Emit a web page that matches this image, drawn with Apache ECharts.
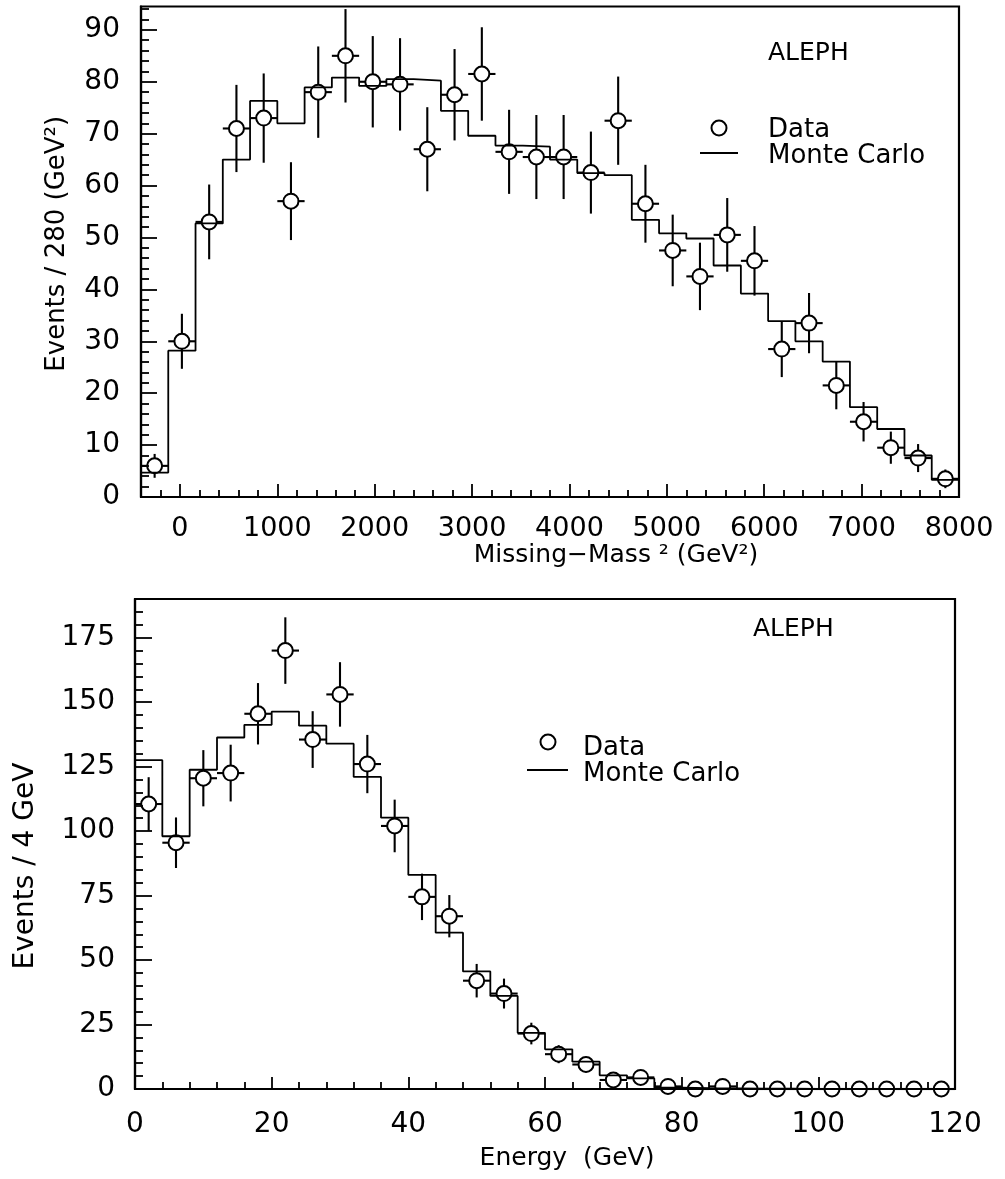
<!DOCTYPE html>
<html>
<head>
<meta charset="utf-8">
<script src="https://cdn.jsdelivr.net/npm/echarts@6/dist/echarts.min.js"></script>
<style>
html,body{margin:0;padding:0;background:#fff;}
#chart{width:1005px;height:1179px;}
</style>
</head>
<body>
<div id="chart"></div>
<script>
// ---------- Top panel: Missing-Mass^2 ----------
const topCenters = [-260,20,300,580,860,1140,1420,1700,1980,2260,2540,2820,3100,3380,3660,3940,4220,4500,4780,5060,5340,5620,5900,6180,6460,6740,7020,7300,7580,7860];
const topCounts  = [6,30,53,71,73,57,78,85,80,79.5,67,77.5,81.5,66.5,65.5,65.5,62.5,72.5,56.5,47.5,42.5,50.5,45.5,28.5,33.5,21.5,14.5,9.5,7.5,3.5];
const topErrors  = [2.3,5.3,7.2,8.4,8.6,7.5,8.8,9,8.8,8.9,8.1,8.8,9,8.1,8.1,8.1,7.9,8.5,7.5,6.9,6.5,7.1,6.7,5.4,5.8,4.6,3.8,3.1,2.7,1.8];
const topMC      = [4.7,28.2,52.7,65,76.3,72,78.9,80.8,79.2,80.5,80.2,74.4,69.6,67.7,67.5,65,62.4,62,53.4,50.8,49.8,44.6,39.2,33.9,30,26.1,17.3,13.1,8,3.3];
const topXTicks  = [0,1000,2000,3000,4000,5000,6000,7000,8000];
const topYTicks  = [0,10,20,30,40,50,60,70,80,90];

// ---------- Bottom panel: Energy ----------
const botCenters = [2,6,10,14,18,22,26,30,34,38,42,46,50,54,58,62,66,70,74,78,82,86,90,94,98,102,106,110,114,118];
const botCounts  = [110.5,95.5,120.5,122.5,145.5,170,135.5,153,126,102,74.5,67,42,37,21.5,13.5,9.5,3.5,4.5,1,0,1,0,0,0,0,0,0,0,0];
const botErrors  = [10.4,9.8,10.9,11,11.9,12.9,11,12.5,11.3,10.2,9,8.2,6.5,5.8,4.2,3.5,3,1.8,2,1,0,1,0,0,0,0,0,0,0,0];
const botMC      = [127.5,98,123.8,136.3,141.2,146.3,140.9,133.9,121,105.2,83,60.6,45.6,36.1,21.8,15.4,10.6,5.3,4.1,0.5,0.3,0.2,0.1,0.1,0,0,0,0,0,0];
const botXTicks  = [0,20,40,60,80,100,120];
const botYTicks  = [0,25,50,75,100,125,150,175];

const FONT = 'DejaVu Sans';

function stepData(centers, values){
  const w = centers[1] - centers[0];
  const out = [[centers[0] - w/2, 0]];
  for (let i = 0; i < centers.length; i++) out.push([centers[i] - w/2, values[i]]);
  out.push([centers[centers.length-1] + w/2, values[values.length-1]]);
  return out;
}
function pointData(centers, counts, errs){
  return centers.map((c,i) => [c, counts[i], errs[i]]);
}
function minorTicks(min, max, step, skipEvery){
  const r = [];
  for (let v = min; v <= max + 1e-9; v += step){
    if (Math.abs(v % skipEvery) > 1e-9 && v > min && v < max) r.push(v);
  }
  return r;
}
function makeRender(halfW){
  return function(params, api){
    const x = api.value(0), y = api.value(1), e = api.value(2);
    const c = api.coord([x, y]);
    const t = api.coord([x, y + e]);
    const b = api.coord([x, Math.max(0, y - e)]);
    const l = api.coord([x - halfW, y]);
    const r = api.coord([x + halfW, y]);
    const R = 7.5;
    const st = {stroke:'#000', lineWidth:2.1, fill:'none'};
    const kids = [{type:'circle', shape:{cx:c[0], cy:c[1], r:R}, style:{stroke:'#000', lineWidth:2, fill:'none'}}];
    if (t[1] < c[1] - R) kids.push({type:'line', shape:{x1:c[0], y1:t[1], x2:c[0], y2:c[1]-R}, style:st});
    if (b[1] > c[1] + R) kids.push({type:'line', shape:{x1:c[0], y1:c[1]+R, x2:c[0], y2:b[1]}, style:st});
    kids.push({type:'line', shape:{x1:l[0], y1:c[1], x2:c[0]-R, y2:c[1]}, style:st});
    kids.push({type:'line', shape:{x1:c[0]+R, y1:c[1], x2:r[0], y2:c[1]}, style:st});
    return {type:'group', children:kids};
  };
}

const axisLineStyle = {show:true, onZero:false, lineStyle:{color:'#000', width:2.2}};
const noLine = {show:false, onZero:false};
const tickStyle = {color:'#000', width:1.8};
const plain = v => String(v);

const option = {
  backgroundColor:'#fff',
  animation:false,
  textStyle:{fontFamily:FONT, color:'#000'},
  grid:[
    {left:141, width:818, top:6.5, height:490.5, show:true, borderColor:'#000', borderWidth:2.2, backgroundColor:'transparent'},
    {left:135, width:820, top:599, height:490, show:true, borderColor:'#000', borderWidth:2.2, backgroundColor:'transparent'}
  ],
  xAxis:[
    {gridIndex:0, type:'value', min:-400, max:8000, position:'bottom', axisLine:axisLineStyle,
     axisTick:{show:true, inside:true, length:7, lineStyle:tickStyle, customValues:minorTicks(-400,8000,200,1000)},
     axisLabel:{show:false}, splitLine:{show:false}},
    {gridIndex:0, type:'value', min:-400, max:8000, position:'bottom', axisLine:noLine,
     axisTick:{show:true, inside:true, length:13, lineStyle:tickStyle, customValues:topXTicks},
     axisLabel:{show:true, customValues:topXTicks, formatter:plain, margin:18, fontSize:27, color:'#000', fontFamily:FONT},
     splitLine:{show:false},
     name:'Missing\u2212Mass \u00B2 (GeV\u00B2)', nameLocation:'middle', nameGap:46,
     nameTextStyle:{fontSize:25, color:'#000', fontFamily:FONT, padding:[0,0,0,132]}},
    {gridIndex:1, type:'value', min:0, max:120, position:'bottom', axisLine:axisLineStyle,
     axisTick:{show:true, inside:true, length:7, lineStyle:tickStyle, customValues:minorTicks(0,120,4,20)},
     axisLabel:{show:false}, splitLine:{show:false}},
    {gridIndex:1, type:'value', min:0, max:120, position:'bottom', axisLine:noLine,
     axisTick:{show:true, inside:true, length:12, lineStyle:tickStyle, customValues:botXTicks},
     axisLabel:{show:true, customValues:botXTicks, formatter:plain, margin:22, fontSize:28, color:'#000', fontFamily:FONT},
     splitLine:{show:false},
     name:'Energy  (GeV)', nameLocation:'middle', nameGap:57,
     nameTextStyle:{fontSize:25, color:'#000', fontFamily:FONT, padding:[0,0,0,44]}}
  ],
  yAxis:[
    {gridIndex:0, type:'value', min:0, max:94.5, position:'left', axisLine:axisLineStyle,
     axisTick:{show:true, inside:true, length:8, lineStyle:tickStyle, customValues:minorTicks(0,94.5,2,10)},
     axisLabel:{show:false}, splitLine:{show:false}},
    {gridIndex:0, type:'value', min:0, max:94.5, position:'left', axisLine:noLine,
     axisTick:{show:true, inside:true, length:16, lineStyle:tickStyle, customValues:topYTicks},
     axisLabel:{show:true, customValues:topYTicks, formatter:plain, margin:21, fontSize:28, color:'#000', fontFamily:FONT},
     splitLine:{show:false},
     name:'Events / 280 (GeV\u00B2)', nameLocation:'middle', nameGap:71, nameRotate:90,
     nameTextStyle:{fontSize:26, color:'#000', fontFamily:FONT, padding:[0,0,0,16]}},
    {gridIndex:1, type:'value', min:0, max:190, position:'left', axisLine:axisLineStyle,
     axisTick:{show:true, inside:true, length:8, lineStyle:tickStyle, customValues:minorTicks(0,190,5,25)},
     axisLabel:{show:false}, splitLine:{show:false}},
    {gridIndex:1, type:'value', min:0, max:190, position:'left', axisLine:noLine,
     axisTick:{show:true, inside:true, length:17, lineStyle:tickStyle, customValues:botYTicks},
     axisLabel:{show:true, customValues:botYTicks, formatter:plain, margin:20, fontSize:28, color:'#000', fontFamily:FONT},
     splitLine:{show:false},
     name:'Events / 4 GeV', nameLocation:'middle', nameGap:95, nameRotate:90,
     nameTextStyle:{fontSize:28, color:'#000', fontFamily:FONT, padding:[0,44,0,0]}}
  ],
  series:[
    {name:'Monte Carlo', type:'line', xAxisIndex:0, yAxisIndex:0, step:'end', showSymbol:false, symbol:'none',
     lineStyle:{color:'#000', width:1.8}, data:stepData(topCenters, topMC), z:2},
    {name:'Data', type:'custom', xAxisIndex:0, yAxisIndex:0, clip:false,
     renderItem:makeRender((topCenters[1]-topCenters[0])/2), data:pointData(topCenters, topCounts, topErrors), z:3},
    {name:'Monte Carlo', type:'line', xAxisIndex:2, yAxisIndex:2, step:'end', showSymbol:false, symbol:'none',
     lineStyle:{color:'#000', width:1.8}, data:stepData(botCenters, botMC), z:2},
    {name:'Data', type:'custom', xAxisIndex:2, yAxisIndex:2, clip:false,
     renderItem:makeRender((botCenters[1]-botCenters[0])/2), data:pointData(botCenters, botCounts, botErrors), z:3}
  ],
  graphic:[
    {type:'text', x:768, y:53, style:{text:'ALEPH', font:'25px "DejaVu Sans"', fill:'#000', verticalAlign:'middle', align:'left'}},
    {type:'circle', shape:{cx:719, cy:128, r:7.5}, style:{stroke:'#000', lineWidth:2, fill:'none'}},
    {type:'text', x:768, y:130, style:{text:'Data', font:'26px "DejaVu Sans"', fill:'#000', verticalAlign:'middle', align:'left'}},
    {type:'line', shape:{x1:700, y1:153, x2:738, y2:153}, style:{stroke:'#000', lineWidth:1.8}},
    {type:'text', x:768, y:156, style:{text:'Monte Carlo', font:'26px "DejaVu Sans"', fill:'#000', verticalAlign:'middle', align:'left'}},

    {type:'text', x:753, y:629, style:{text:'ALEPH', font:'25px "DejaVu Sans"', fill:'#000', verticalAlign:'middle', align:'left'}},
    {type:'circle', shape:{cx:548, cy:742, r:7.5}, style:{stroke:'#000', lineWidth:2, fill:'none'}},
    {type:'text', x:583, y:748, style:{text:'Data', font:'26px "DejaVu Sans"', fill:'#000', verticalAlign:'middle', align:'left'}},
    {type:'line', shape:{x1:527, y1:770, x2:568, y2:770}, style:{stroke:'#000', lineWidth:1.8}},
    {type:'text', x:583, y:774, style:{text:'Monte Carlo', font:'26px "DejaVu Sans"', fill:'#000', verticalAlign:'middle', align:'left'}}
  ]
};

const chart = echarts.init(document.getElementById('chart'), null, {renderer:'canvas'});
chart.setOption(option);
</script>
</body>
</html>
